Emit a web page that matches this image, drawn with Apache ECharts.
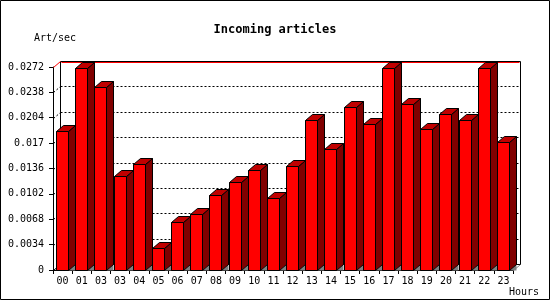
<!DOCTYPE html>
<html><head><meta charset="utf-8">
<script src="https://cdn.jsdelivr.net/npm/echarts@6/dist/echarts.min.js"></script>
<style>html,body{margin:0;padding:0;background:#fff}#c{width:550px;height:300px}</style>
</head><body><div id="c"></div>
<script>
const hours = ['00','01','03','03','04','05','06','07','08','09','10','11','12','13','14','15','16','17','18','19','20','21','22','23'];
const artPerSec = [0.0186,0.0270,0.0245,0.0126,0.0142,0.0030,0.0064,0.0075,0.0100,0.0118,0.0134,0.0097,0.0139,0.0201,0.0162,0.0219,0.0195,0.0270,0.0222,0.0189,0.0209,0.0201,0.0270,0.0172];
const yTicks = [0,0.0034,0.0068,0.0102,0.0136,0.017,0.0204,0.0238,0.0272];
const yTickLabels = ['0','0.0034','0.0068','0.0102','0.0136','0.017','0.0204','0.0238','0.0272'];

const FONT = 'DejaVu Sans Mono';
const DX = 7, DY = 6;
const Y_MAX = 0.0272, Y_STEP = 0.0034;

function px(v){ return Math.round(v) + 0.5; }

function renderBar(params, api){
  const i = api.value(0), v = api.value(1);
  const t = api.coord([i, v]), b = api.coord([i, 0]);
  const w = api.size([1, 0])[0];
  const xl = px(t[0] - w * 0.34), xr = xl + 12;
  const yt = px(t[1]), yb = px(b[1]);
  const st = {stroke:'#000', lineWidth:1};
  return {type:'group', children:[
    {type:'polygon', shape:{points:[[xr,yb],[xr+DX,yb-DY],[xr+DX,yb]]}, style:{fill:'#808080'}},
    {type:'polygon', shape:{points:[[xr,yt],[xr+DX,yt-DY],[xr+DX,yb-DY],[xr,yb]]}, style:Object.assign({fill:'#800000'}, st)},
    {type:'polygon', shape:{points:[[xl,yt],[xl+DX,yt-DY],[xr+DX,yt-DY],[xr,yt]]}, style:Object.assign({fill:'#c00000'}, st)},
    {type:'rect', shape:{x:xl, y:yt, width:xr-xl, height:yb-yt}, style:Object.assign({fill:'#ff0000'}, st)}
  ]};
}

function renderFrame(params, api){
  const v = api.value(1);
  const w = api.size([1, 0])[0];
  const p0 = api.coord([0, v]);
  const pe = api.coord([hours.length - 1, v]);
  const x0 = px(p0[0] - w / 2), xe = px(pe[0] + w / 2), y = px(p0[1]);
  const kids = [];
  if (v >= Y_MAX - 1e-9) {
    const yb = px(api.coord([0, 0])[1]);
    kids.push({type:'line', shape:{x1:x0+DX, y1:y-DY, x2:xe+DX, y2:y-DY}, style:{stroke:'#000', lineWidth:1}});
    kids.push({type:'line', shape:{x1:x0+DX, y1:y-DY, x2:x0+DX, y2:yb-DY}, style:{stroke:'#000', lineWidth:1}});
    kids.push({type:'line', shape:{x1:xe+DX, y1:y-DY, x2:xe+DX, y2:yb-DY}, style:{stroke:'#000', lineWidth:1}});
    kids.push({type:'line', shape:{x1:x0, y1:y, x2:x0+DX, y2:y-DY}, style:{stroke:'#ff0000', lineWidth:1}});
    kids.push({type:'line', shape:{x1:x0+DX+1, y1:y-DY+1, x2:xe+DX-1, y2:y-DY+1}, style:{stroke:'#ff0000', lineWidth:1}});
  } else if (v <= 1e-9) {
    kids.push({type:'line', shape:{x1:x0+DX, y1:y-DY, x2:xe+DX, y2:y-DY}, style:{stroke:'#000', lineWidth:1}});
    kids.push({type:'line', shape:{x1:x0, y1:y, x2:x0+DX, y2:y-DY}, style:{stroke:'#000', lineWidth:1}});
    kids.push({type:'line', shape:{x1:xe, y1:y, x2:xe+DX, y2:y-DY}, style:{stroke:'#808080', lineWidth:1}});
  } else {
    kids.push({type:'line', shape:{x1:x0+DX, y1:y-DY, x2:xe+DX, y2:y-DY}, style:{stroke:'#000', lineWidth:1, lineDash:[2,2]}});
    kids.push({type:'line', shape:{x1:x0, y1:y, x2:x0+DX, y2:y-DY}, style:{stroke:'#000', lineWidth:1, lineDash:[2,2]}});
  }
  return {type:'group', children:kids};
}

const chart = echarts.init(document.getElementById('c'), null, {renderer:'canvas'});
chart.setOption({
  animation:false,
  backgroundColor:'#fff',
  title:[
    {text:'Incoming articles', left:'center', top:19, textStyle:{fontFamily:FONT, fontSize:12, fontWeight:'bold', color:'#000'}},
    {text:'Art/sec', left:29, top:28, textStyle:{fontFamily:FONT, fontSize:10, fontWeight:'normal', color:'#000'}},
    {text:'Hours', left:504, top:282, textStyle:{fontFamily:FONT, fontSize:10, fontWeight:'normal', color:'#000'}}
  ],
  grid:[
    {left:53, right:37, top:67, bottom:30, containLabel:false}
  ],
  xAxis:[
    {type:'category', gridIndex:0, data:hours, boundaryGap:true,
     axisLine:{show:true, lineStyle:{color:'#000', width:1}},
     axisTick:{show:true, inside:false, length:4, alignWithLabel:false, lineStyle:{color:'#000'}},
     axisLabel:{interval:0, margin:6, fontFamily:FONT, fontSize:10, color:'#000'},
     splitLine:{show:false}}
  ],
  yAxis:[
    {type:'value', gridIndex:0, min:0, max:Y_MAX, interval:Y_STEP,
     axisLine:{show:true, lineStyle:{color:'#000', width:1}},
     axisTick:{show:true, inside:false, length:4, lineStyle:{color:'#000'}},
     axisLabel:{margin:9, fontFamily:FONT, fontSize:10, color:'#000',
       formatter:v => yTickLabels[Math.round(v / Y_STEP)]},
     splitLine:{show:false}}
  ],
  series:[
    {type:'custom', name:'frame', xAxisIndex:0, yAxisIndex:0, z:1, silent:true,
     renderItem:renderFrame, data:yTicks.map(v => [0, v]), encode:{x:0, y:1}, clip:false},
    {type:'custom', name:'Art/sec', xAxisIndex:0, yAxisIndex:0, z:3,
     renderItem:renderBar, data:artPerSec.map((v, i) => [i, v]), encode:{x:0, y:1}, clip:false}
  ],
  graphic:[
    {type:'rect', shape:{x:0.5, y:0.5, width:549, height:299}, style:{fill:null, stroke:'#000', lineWidth:1}, z:100, silent:true}
  ]
});
</script></body></html>
